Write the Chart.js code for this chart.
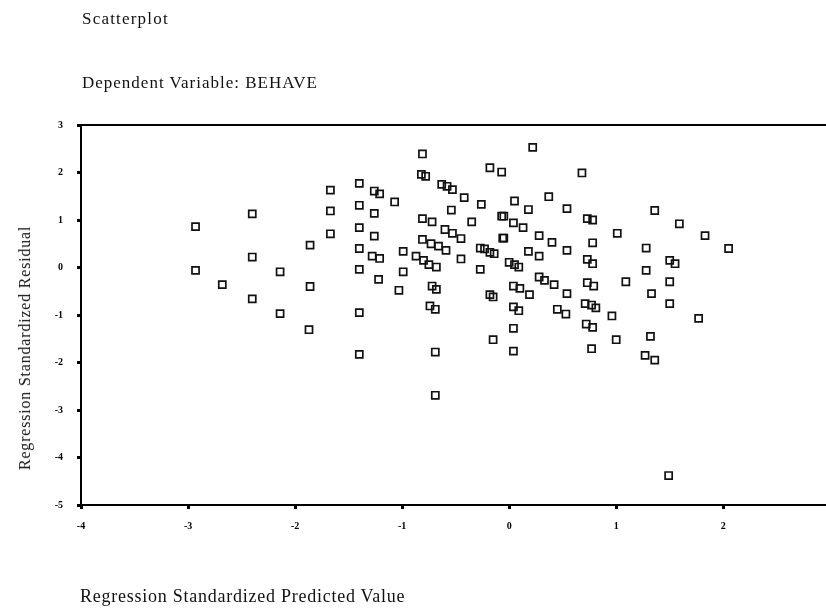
<!DOCTYPE html>
<html>
<head>
<meta charset="utf-8">
<script src="https://cdn.jsdelivr.net/npm/chart.js@4.4.1/dist/chart.umd.min.js"></script>
<style>
  body { margin: 0; background: #fff; }
  #wrap { position: relative; width: 826px; height: 608px; font-family: 'Liberation Serif', 'Times New Roman', serif; color: #111; }
  canvas { position: absolute; left: 0; top: 0; }
  .t { position: absolute; white-space: nowrap; line-height: 1; }
</style>
</head>
<body>
<div id="wrap">
  <canvas id="myChart" width="826" height="608"></canvas>
  <div class="t" style="left:82px;top:10px;font-size:17px;letter-spacing:1.2px">Scatterplot</div>
  <div class="t" style="left:82px;top:74px;font-size:17px;letter-spacing:1px">Dependent Variable: BEHAVE</div>
  <div class="t" style="left:80px;top:587px;font-size:18px;letter-spacing:0.75px">Regression Standardized Predicted Value</div>
  <div class="t" style="left:25px;top:348px;font-size:16px;letter-spacing:0.8px;transform:translate(-50%,-50%) rotate(-90deg)">Regression Standardized Residual</div>
</div>
<script>
// standardized predicted value (x) and standardized residual (y)
const predicted = [
  -2.93, -2.93, -2.68, -2.40, -2.40, -2.40, -2.14, -2.14, -1.86, -1.86,
  -1.87, -1.67, -1.67, -1.67, -1.40, -1.40, -1.40, -1.40, -1.40, -1.40,
  -1.40, -1.26, -1.21, -1.26, -1.26, -1.28, -1.21, -1.22, -1.07, -0.99,
  -0.99, -1.03, -0.81, -0.82, -0.78, -0.81, -0.72, -0.81, -0.73, -0.66,
  -0.59, -0.87, -0.80, -0.75, -0.68, -0.72, -0.68, -0.74, -0.69, -0.69,
  -0.69, -0.63, -0.58, -0.53, -0.54, -0.60, -0.53, -0.45, -0.45, -0.42,
  -0.35, -0.26, -0.27, -0.23, -0.18, -0.14, -0.27, -0.18, -0.07, -0.07,
  -0.05, -0.06, -0.05, -0.18, -0.15, -0.15, 0.05, 0.04, 0.13, 0.00,
  0.05, 0.09, 0.04, 0.10, 0.19, 0.04, 0.09, 0.04, 0.04, 0.22,
  0.18, 0.28, 0.18, 0.28, 0.28, 0.33, 0.42, 0.37, 0.40, 0.54,
  0.54, 0.54, 0.45, 0.53, 0.68, 0.73, 0.78, 0.78, 0.73, 0.78,
  0.73, 0.79, 0.71, 0.77, 0.81, 0.72, 0.78, 0.77, 0.96, 1.00,
  1.01, 1.09, 1.28, 1.28, 1.33, 1.32, 1.27, 1.36, 1.36, 1.50,
  1.55, 1.50, 1.50, 1.49, 1.59, 1.77, 1.83, 2.05
];
const residual = [
  0.86, -0.06, -0.36, 1.13, 0.22, -0.66, -0.09, -0.97, 0.47, -0.40,
  -1.31, 1.63, 1.19, 0.71, 1.77, 1.31, 0.84, 0.40, -0.04, -0.95,
  -1.83, 1.61, 1.55, 1.14, 0.66, 0.24, 0.19, -0.25, 1.38, 0.34,
  -0.09, -0.48, 2.39, 1.96, 1.92, 1.03, 0.96, 0.59, 0.50, 0.45,
  0.36, 0.24, 0.15, 0.06, 0.01, -0.39, -0.46, -0.81, -0.88, -1.78,
  -2.69, 1.75, 1.71, 1.64, 1.21, 0.80, 0.72, 0.61, 0.18, 1.47,
  0.96, 1.33, 0.41, 0.39, 0.32, 0.29, -0.04, 2.10, 2.01, 1.08,
  1.08, 0.62, 0.62, -0.57, -0.62, -1.52, 1.40, 0.94, 0.84, 0.11,
  0.06, 0.01, -0.39, -0.44, -0.57, -0.83, -0.91, -1.28, -1.76, 2.53,
  1.22, 0.67, 0.34, 0.24, -0.20, -0.27, -0.36, 1.49, 0.53, 1.24,
  0.36, -0.55, -0.88, -0.98, 1.99, 1.03, 1.00, 0.52, 0.17, 0.08,
  -0.32, -0.39, -0.76, -0.79, -0.85, -1.19, -1.26, -1.71, -1.02, -1.52,
  0.72, -0.30, 0.41, -0.06, -0.55, -1.45, -1.85, -1.95, 1.20, 0.15,
  0.08, -0.30, -0.76, -4.38, 0.92, -1.07, 0.67, 0.40
];
const xTicks = [-4, -3, -2, -1, 0, 1, 2];
const yTicks = [3, 2, 1, 0, -1, -2, -3, -4, -5];

const points = predicted.map((v, i) => ({ x: v, y: residual[i] }));
const serif = "'Liberation Serif', serif";

const ctx = document.getElementById('myChart');

const noSidePad = s => { s.paddingLeft = 0; s.paddingRight = 0; };

const config = {
  type: 'scatter',
  data: {
    datasets: [{
      data: points,
      pointStyle: 'rect',
      pointRadius: 5,
      borderWidth: 1.7,
      borderColor: '#111',
      backgroundColor: 'rgba(255,255,255,0)'
    }]
  },
  options: {
    responsive: false,
    animation: false,
    layout: { padding: 0, autoPadding: false },
    plugins: {
      legend: { display: false },
      tooltip: { enabled: false }
    },
    scales: {
      x: {
        type: 'linear', position: 'bottom', min: -4, max: 2.96,
        afterFit: s => { s.height = 103; noSidePad(s); },
        afterBuildTicks: s => { s.ticks = xTicks.map(v => ({ value: v })); },
        grid: { drawOnChartArea: false, drawTicks: true, tickLength: 4, tickWidth: 3, color: '#000' },
        border: { display: true, color: '#000', width: 2 },
        ticks: { padding: 11, color: '#000', font: { family: serif, size: 10, weight: 'bold' }, maxRotation: 0, callback: v => String(v) }
      },
      x2: {
        type: 'linear', position: 'top', min: -4, max: 2.96,
        afterFit: s => { s.height = 125; noSidePad(s); },
        grid: { display: false },
        border: { display: true, color: '#000', width: 2 },
        ticks: { display: false }
      },
      y: {
        type: 'linear', position: 'left', min: -5, max: 3,
        afterFit: s => { s.width = 81; s.paddingTop = 0; s.paddingBottom = 0; },
        afterBuildTicks: s => { s.ticks = yTicks.map(v => ({ value: v })); },
        grid: { drawOnChartArea: false, drawTicks: true, tickLength: 4, tickWidth: 3, color: '#000' },
        border: { display: true, color: '#000', width: 2 },
        ticks: { padding: 14, color: '#000', font: { family: serif, size: 10, weight: 'bold' }, callback: v => String(v) }
      }
    }
  }
};

const myChart = new Chart(ctx, config);
</script>
</body>
</html>
